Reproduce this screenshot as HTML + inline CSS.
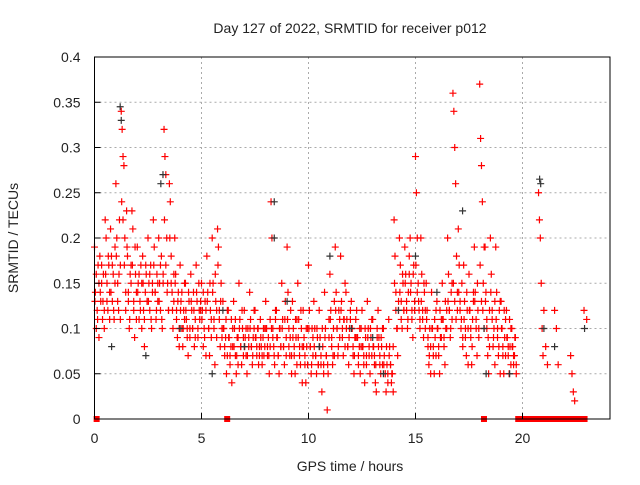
<!DOCTYPE html>
<html><head><meta charset="utf-8"><style>
body{margin:0;background:#fff}
svg text{font-family:"Liberation Sans",sans-serif;fill:#222}
</style></head><body>
<svg id="chart" width="640" height="480" xmlns="http://www.w3.org/2000/svg">
<rect width="640" height="480" fill="#fff"/>
<text x="350" y="33" font-size="14" text-anchor="middle">Day 127 of 2022, SRMTID for receiver p012</text>
<text x="350" y="471" font-size="14" text-anchor="middle">GPS time / hours</text>
<text x="18" y="238" font-size="14" text-anchor="middle" transform="rotate(-90 18 238)">SRMTID / TECUs</text>
<g id="grid"></g><g id="marks"></g><g id="axes"></g>
</svg>
<script>
const xTicks=[0,5,10,15,20];
const yTicks=[0,0.05,0.1,0.15,0.2,0.25,0.3,0.35,0.4];
const yTickLabels=["0","0.05","0.1","0.15","0.2","0.25","0.3","0.35","0.4"];
const rowHours=[0,0.25,0.5,0.75,1,1.25,1.5,1.75,2,2.25,2.5,2.75,3,3.25,3.5,3.75,4,4.25,4.5,4.75,5,5.25,5.5,5.75,6,6.25,6.5,6.75,7,7.25,7.5,7.75,8,8.25,8.5,8.75,9,9.25,9.5,9.75,10,10.25,10.5,10.75,11,11.25,11.5,11.75,12,12.25,12.5,12.75,13,13.25,13.5,13.75,14,14.25,14.5,14.75,15,15.25,15.5,15.75,16,16.25,16.5,16.75,17,17.25,17.5,17.75,18,18.25,18.5,18.75,19,19.25,19.5,20.75,21,21.5,22.25,22.875];
const redVals=[
[.19,.14,.10,.12,.17,.09],[.18,.13,.15,.11,.16,.12],[.22,.2,.15,.12,.17,.14],[.21,.18,.13,.16,.11,.19],
[.26,.2,.15,.12,.22,.17],[.34,.32,.29,.28,.2,.14],[.23,.18,.13,.1,.16,.15],[.23,.21,.12,.09,.16,.14],
[.19,.15,.11,.13,.17,.1],[.18,.12,.08,.14,.16,.13],[.2,.15,.12,.17,.1,.14],[.22,.19,.14,.11,.16,.13],
[.2,.15,.12,.18,.1,.16],[.32,.29,.27,.2,.15,.12],[.26,.24,.18,.14,.1,.16],[.2,.16,.12,.09,.14,.08],
[.17,.13,.1,.08,.12,.15],[.15,.11,.09,.07,.13,.1],[.16,.12,.1,.14,.08,.11],[.17,.13,.09,.15,.11,.12],
[.15,.12,.08,.1,.13,.07],[.18,.14,.1,.07,.12,.09],[.2,.15,.11,.06,.13,.09],[.21,.19,.12,.08,.15,.1],
[.13,.1,.07,.09,.05,.12],[.12,.09,.06,.08,.04,.1],[.13,.1,.07,.05,.09,.06],[.15,.11,.08,.06,.1,.07],
[.12,.09,.07,.05,.1,.08],[.14,.11,.08,.06,.09,.12],[.12,.09,.07,.1,.06,.08],[.11,.08,.06,.09,.07,.1],
[.13,.1,.07,.09,.05,.08],[.24,.2,.1,.08,.06,.12],[.12,.09,.07,.05,.1,.08],[.15,.11,.08,.06,.13,.09],
[.19,.14,.1,.07,.12,.05],[.13,.1,.07,.05,.09,.11],[.15,.11,.08,.06,.1,.04],[.12,.09,.06,.04,.08,.1],
[.17,.12,.08,.05,.1,.07],[.13,.1,.07,.05,.09,.06],[.12,.09,.06,.03,.08,.05],[.14,.1,.07,.01,.05,.09],
[.16,.12,.08,.06,.1,.07],[.19,.14,.1,.07,.12,.09],[.18,.13,.1,.07,.11,.15],[.14,.11,.08,.06,.1,.12],
[.13,.1,.07,.05,.09,.11],[.12,.09,.06,.08,.05,.1],[.12,.08,.06,.04,.09,.07],[.13,.1,.07,.05,.09,.11],
[.11,.08,.06,.04,.03,.09],[.12,.09,.06,.05,.08,.1],[.1,.07,.05,.03,.06,.04],[.11,.08,.06,.04,.05,.03],
[.22,.18,.14,.1,.07,.12],[.2,.17,.13,.1,.15,.12],[.19,.16,.12,.1,.14,.18],[.2,.15,.12,.09,.17,.13],
[.29,.25,.2,.15,.12,.1],[.2,.16,.12,.09,.14,.1],[.15,.12,.08,.06,.1,.05],[.14,.1,.07,.05,.09,.12],
[.13,.1,.07,.05,.09,.11],[.15,.11,.08,.06,.1,.12],[.2,.16,.12,.09,.14,.11],[.36,.34,.3,.26,.18,.12],
[.21,.17,.13,.1,.15,.08],[.17,.13,.1,.07,.12,.06],[.16,.12,.09,.06,.11,.14],[.19,.14,.1,.07,.12,.09],
[.37,.31,.28,.24,.15,.1],[.19,.14,.1,.07,.05,.12],[.2,.16,.12,.08,.1,.06],[.19,.14,.1,.07,.12,.05],
[.13,.1,.07,.05,.09,.11],[.12,.09,.07,.05,.08,.1],[.1,.08,.06,.07,.09,.05],
[.25,.22,.2,.15,.1,.07],[.12,.08,.06],[.12,.1,.06],[.07,.05,.03,.02],[.12,.11]];
const redVals2=[
[.13,.16,.11,.15],[.14,.17,.13,.1],[.16,.13,.18,.11],[.14,.17,.12,.15],
[.18,.13,.16,.11],[.24,.22,.17,.12],[.19,.14,.11,.17],[.17,.13,.19,.11],
[.14,.16,.12,.15],[.15,.11,.17,.13],[.13,.16,.11,.15],[.17,.14,.12,.15],
[.13,.17,.11,.15],[.22,.17,.14,.12],[.2,.15,.12,.13],[.15,.11,.13,.1],
[.12,.14,.1,.11],[.12,.1,.14,.09],[.13,.1,.12,.09],[.14,.1,.12,.13],
[.11,.14,.09,.12],[.13,.1,.15,.11],[.14,.1,.16,.12],[.17,.11,.13,.09],
[.1,.08,.11,.07],[.09,.07,.11,.08],[.08,.11,.07,.09],[.1,.08,.12,.09],
[.08,.1,.07,.09],[.1,.08,.07,.1],[.09,.08,.1,.07],[.09,.07,.1,.08],
[.1,.08,.07,.11],[.1,.09,.07,.11],[.09,.07,.1,.08],[.1,.08,.11,.07],
[.11,.08,.09,.07],[.09,.08,.11,.06],[.09,.07,.12,.08],[.08,.07,.1,.06],
[.1,.08,.06,.09],[.08,.07,.1,.06],[.08,.07,.1,.06],[.09,.07,.06,.11],
[.11,.09,.07,.13],[.12,.1,.08,.11],[.12,.09,.11,.08],[.1,.08,.09,.11],
[.1,.08,.07,.09],[.09,.07,.1,.08],[.08,.07,.1,.06],[.09,.08,.1,.07],
[.08,.07,.06,.1],[.08,.07,.09,.06],[.06,.05,.08,.05],[.07,.06,.05,.08],
[.15,.12,.1,.13],[.14,.11,.16,.12],[.15,.13,.11,.16],[.14,.11,.16,.12],
[.17,.14,.13,.11],[.13,.11,.15,.12],[.11,.09,.07,.08],[.1,.08,.11,.07],
[.1,.08,.12,.09],[.11,.09,.13,.1],[.13,.12,.1,.15],[.15,.13,.11,.14],
[.14,.12,.11,.09],[.11,.09,.14,.1],[.12,.1,.08,.13],[.13,.11,.15,.1],
[.17,.13,.12,.19],[.13,.11,.09,.08],[.14,.11,.09,.13],[.11,.09,.08,.13],
[.1,.08,.12,.07],[.09,.08,.11,.06],[.08,.07,.09,.06]];
const darkTimes=[1.2,1.25,3.2,3.1,8.4,8.4,2.4,0.8,6,7,9,11,12,13,14.2,15,16,17.2,18.3,18.2,20.8,20.85,21,21.5,22.9,5.5,10.5,13.5,19.4,4];
const darkVals=[.345,.33,.27,.26,.24,.2,.07,.08,.12,.08,.13,.18,.1,.09,.12,.18,.14,.23,.05,.1,.265,.26,.1,.08,.1,.05,.08,.05,.05,.1];
const zeroTimes=[0.1,6.2,18.2,19.8,20,20.2,20.4,20.6,20.8,21,21.2,21.4,21.6,21.8,22,22.2,22.4,22.6,22.8,22.9];

const L=94.5,R=610,T=57,B=419;
const X=t=>L+t*(201.5-94.5)/5;
const Y=v=>B-v*(B-T)/0.4;
const NS="http://www.w3.org/2000/svg";
function mk(tag,attrs,parent){const e=document.createElementNS(NS,tag);for(const k in attrs)e.setAttribute(k,attrs[k]);parent.appendChild(e);return e;}
const grid=document.getElementById('grid'),marks=document.getElementById('marks'),axes=document.getElementById('axes');
xTicks.forEach(t=>{
  if(t>0){const g=mk('line',{x1:X(t),x2:X(t),y1:T,y2:B,stroke:'#aaa','stroke-dasharray':'2,3'},grid);
  
  }
  const tk=mk('line',{x1:X(t),x2:X(t),y1:B,y2:B-6,stroke:'#000'},axes);
  
  
  const lb=mk('text',{x:X(t),y:B+24,'font-size':14,'text-anchor':'middle'},axes);lb.textContent=t;
  
  
});
yTicks.forEach((v,i)=>{
  if(v>0&&v<0.4){const g=mk('line',{x1:L,x2:R,y1:Y(v),y2:Y(v),stroke:'#aaa','stroke-dasharray':'2,3'},grid);
  
  }
  const tk=mk('line',{x1:L,x2:L+6,y1:Y(v),y2:Y(v),stroke:'#000'},axes);
  
  
  const lb=mk('text',{x:L-14,y:Y(v)+5,'font-size':14,'text-anchor':'end'},axes);lb.textContent=yTickLabels[i];
  
  
});
const fr=mk('rect',{x:L,y:T,width:R-L,height:B-T,fill:'none',stroke:'#000'},axes);


function plus(x,y,c,name){
  const p=mk('path',{d:`M${x-3.5},${y}h7M${x},${y-3.5}v7`,stroke:c,'stroke-width':1.2,fill:'none'},marks);
  
  
}
rowHours.forEach((h,i)=>{const row=redVals[i];row.forEach((v,k)=>plus(X(h+k*0.25/row.length),Y(v),'#f00','red-point'));});
redVals2.forEach((row,i)=>{const h=rowHours[i];row.forEach((v,k)=>plus(X(h+0.02+k*0.25/row.length),Y(v),'#f00','red-point'));});
darkTimes.forEach((t,i)=>plus(X(t),Y(darkVals[i]),'#333','dark-point'));
zeroTimes.forEach(t=>{const r=mk('rect',{x:X(t)-3,y:B-3,width:6,height:6,fill:'#f00'},marks);
  
  });
</script>
</body></html>
